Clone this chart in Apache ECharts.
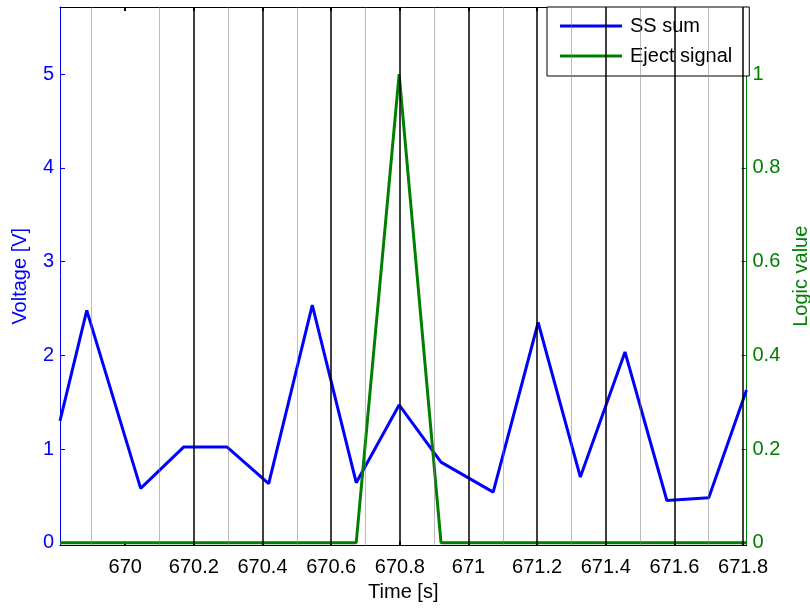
<!DOCTYPE html>
<html>
<head>
<meta charset="utf-8">
<script src="https://cdn.jsdelivr.net/npm/echarts@6/dist/echarts.min.js"></script>
<style>
html, body { margin: 0; padding: 0; background: #fff; overflow: hidden; }
#chart { width: 810px; height: 608px; }
</style>
</head>
<body>
<div id="chart"></div>
<script>
// sample times [s]
var time = [669.81, 669.888, 670.045, 670.17, 670.297, 670.418, 670.545, 670.673, 670.798,
            670.92, 671.072, 671.203, 671.326, 671.456, 671.578, 671.70, 671.81];
// SS sum [V]
var ssSum = [1.30, 2.48, 0.58, 1.02, 1.02, 0.63, 2.535, 0.64, 1.47,
             0.86, 0.54, 2.35, 0.70, 2.035, 0.45, 0.48, 1.63];
// eject signal (logic)
var eject = [0, 0, 0, 0, 0, 0, 0, 0, 1,
             0, 0, 0, 0, 0, 0, 0, 0];

var xTicks = [670, 670.2, 670.4, 670.6, 670.8, 671, 671.2, 671.4, 671.6, 671.8];
var voltTicks = [0, 1, 2, 3, 4, 5];
var logicTicks = [0, 0.2, 0.4, 0.6, 0.8, 1];
// vertical marker lines
var blackLines = [670.2, 670.4, 670.6, 670.8, 671, 671.2, 671.4, 671.6, 671.8];
var grayLines = [669.9, 670.1, 670.3, 670.5, 670.7, 670.9, 671.1, 671.3, 671.5, 671.7];

var FONT = "'Liberation Sans', Arial, sans-serif";
var BLUE = '#0000ff';
var GREEN = '#008000';

function pairs(xs, ys) {
  return xs.map(function (x, i) { return [x, ys[i]]; });
}

var markData = grayLines.map(function (v) {
  return { xAxis: v, lineStyle: { color: '#7a7a7a', width: 1, type: [1, 1] } };
}).concat(blackLines.map(function (v) {
  return { xAxis: v, lineStyle: { color: '#000', width: 1.5, type: 'solid' } };
}));

var chart = echarts.init(document.getElementById('chart'), null, { renderer: 'canvas' });

var option = {
  animation: false,
  textStyle: { fontFamily: FONT },
  grid: { left: 60, right: 63.5, top: 7, bottom: 62.5, containLabel: false, outerBoundsMode: 'none' },
  legend: {
    data: [
      { name: 'SS sum', icon: 'rect' },
      { name: 'Eject signal', icon: 'rect' }
    ],
    orient: 'vertical',
    left: 547,
    top: 7,
    padding: [8, 17, 9, 13],
    itemGap: 8,
    itemWidth: 62,
    itemHeight: 3,
    backgroundColor: '#fff',
    borderColor: '#000',
    borderWidth: 1,
    borderRadius: 0,
    textStyle: { fontFamily: FONT, fontSize: 20, color: '#000', lineHeight: 22, padding: [0, 0, 0, 3] }
  },
  xAxis: [
    {
      type: 'value',
      min: 669.81,
      max: 671.81,
      position: 'bottom',
      name: 'Time [s]',
      nameLocation: 'middle',
      nameGap: 36,
      nameTextStyle: { fontFamily: FONT, fontSize: 20, color: '#000' },
      axisLine: { show: true, onZero: false, lineStyle: { color: '#000', width: 1 } },
      axisTick: { show: true, inside: true, length: 4, customValues: xTicks, lineStyle: { color: '#000', width: 2 } },
      axisLabel: {
        show: true, customValues: xTicks, margin: 12,
        fontFamily: FONT, fontSize: 20, color: '#000',
        formatter: function (v) { return String(Math.round(v * 10) / 10); }
      },
      splitLine: { show: false }
    },
    {
      type: 'value',
      min: 669.81,
      max: 671.81,
      position: 'top',
      axisLine: { show: true, onZero: false, lineStyle: { color: '#000', width: 1 } },
      axisTick: { show: true, inside: true, length: 4, customValues: xTicks, lineStyle: { color: '#000', width: 2 } },
      axisLabel: { show: false },
      splitLine: { show: false }
    }
  ],
  yAxis: [
    {
      type: 'value',
      min: -0.03,
      max: 5.717,
      position: 'left',
      name: 'Voltage [V]',
      nameLocation: 'middle',
      nameGap: 30,
      nameTextStyle: { fontFamily: FONT, fontSize: 20, color: BLUE },
      axisLine: { show: true, onZero: false, lineStyle: { color: BLUE, width: 1 } },
      axisTick: { show: true, inside: true, length: 5, customValues: voltTicks, lineStyle: { color: BLUE } },
      axisLabel: { show: true, customValues: voltTicks, margin: 6, fontFamily: FONT, fontSize: 20, color: BLUE },
      splitLine: { show: false }
    },
    {
      type: 'value',
      min: -0.006,
      max: 1.1434,
      position: 'right',
      name: 'Logic value',
      nameLocation: 'middle',
      nameGap: 35,
      nameTextStyle: { fontFamily: FONT, fontSize: 20, color: GREEN },
      axisLine: { show: true, onZero: false, lineStyle: { color: GREEN, width: 1 } },
      axisTick: { show: true, inside: true, length: 5, customValues: logicTicks, lineStyle: { color: GREEN } },
      axisLabel: {
        show: true, customValues: logicTicks, margin: 6, fontFamily: FONT, fontSize: 20, color: GREEN,
        formatter: function (v) { return String(Math.round(v * 10) / 10); }
      },
      splitLine: { show: false }
    }
  ],
  series: [
    {
      name: 'markers',
      type: 'line',
      xAxisIndex: 0,
      yAxisIndex: 0,
      data: [],
      z: 1,
      silent: true,
      markLine: {
        silent: true,
        symbol: 'none',
        label: { show: false },
        animation: false,
        data: markData
      }
    },
    {
      name: 'SS sum',
      type: 'line',
      xAxisIndex: 0,
      yAxisIndex: 0,
      data: pairs(time, ssSum),
      symbol: 'none',
      clip: true,
      z: 3,
      lineStyle: { color: BLUE, width: 3 },
      itemStyle: { color: BLUE }
    },
    {
      name: 'Eject signal',
      type: 'line',
      xAxisIndex: 0,
      yAxisIndex: 1,
      data: pairs(time, eject),
      symbol: 'none',
      clip: true,
      z: 4,
      lineStyle: { color: GREEN, width: 3 },
      itemStyle: { color: GREEN }
    }
  ]
};

chart.setOption(option);
</script>
</body>
</html>
